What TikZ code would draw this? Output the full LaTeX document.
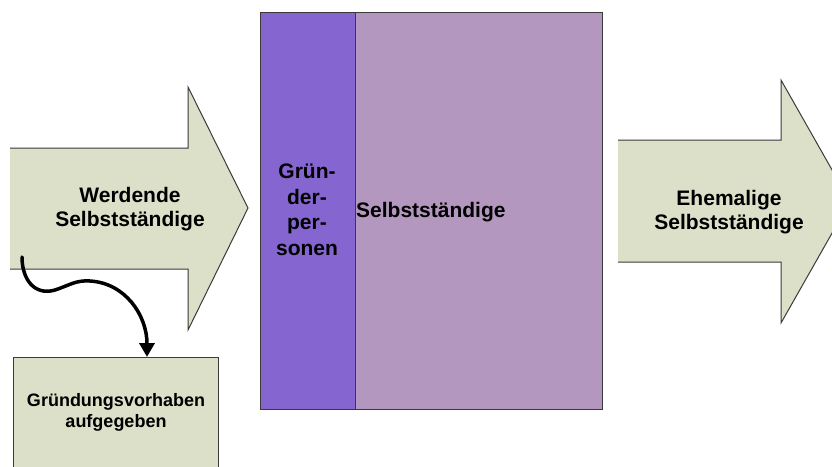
\documentclass[tikz,border=0pt]{standalone}
\usepackage{fontspec}
\setmainfont{Liberation Sans}
\usetikzlibrary{arrows.meta}
\definecolor{arrowfill}{HTML}{DDE0C9}
\definecolor{founder}{HTML}{8565CF}
\definecolor{selfemp}{HTML}{B497BF}
\definecolor{edge}{HTML}{3A3A3A}
\tikzset{
  bigarrow/.style={fill=arrowfill,draw=none},
  arrowedge/.style={draw=edge,line width=1pt,line join=miter},
  label/.style={font=\bfseries\fontsize{21}{24.5}\selectfont,align=center,inner sep=0pt,text=black},
  smalllabel/.style={font=\bfseries\fontsize{18}{21}\selectfont,align=center,inner sep=0pt,text=black},
  panel/.style={draw=edge,line width=1.2pt},
  flow/.style={line width=3.5pt,line cap=round,-{Triangle[width=15pt,length=14pt]}}
}
\begin{document}
\begin{tikzpicture}[x=1pt,y=-1pt]
\useasboundingbox (0,0) rectangle (832,466);
\clip (0,0) rectangle (832,466);
% left arrow
\fill[bigarrow] (10,148) -- (188,148) -- (188,87) -- (248,208) -- (188,330) -- (188,269) -- (10,269) -- cycle;
\draw[arrowedge] (10,148) -- (188,148) -- (188,87) -- (248,208) -- (188,330) -- (188,269) -- (10,269);
\node[label] (werd) at (130,209) {Werdende\\Selbstständige};
% right arrow
\fill[bigarrow] (618,140) -- (781,140) -- (781,80) -- (850,201.5) -- (781,323) -- (781,262) -- (618,262) -- cycle;
\draw[arrowedge] (618,140) -- (781,140) -- (781,80) -- (850,201.5) -- (781,323) -- (781,262) -- (618,262);
\node[label] (ehem) at (729,212) {Ehemalige\\Selbstständige};
% central panels
\node[panel,fill=selfemp,minimum width=247pt,minimum height=397pt,inner sep=0pt,anchor=north west] (selb) at (355,12) {};
\node[panel,fill=founder,minimum width=95pt,minimum height=397pt,inner sep=0pt,anchor=north west] (gruend) at (260,12) {};
\node[label,anchor=base west] (selbtxt) at (356,217) {Selbstständige};
\node[label,font=\bfseries\fontsize{21}{25.5}\selectfont] (gruendtxt) at (307,210) {Grün-\\der-\\per-\\sonen};
% abandoned box
\node[draw=edge,line width=1pt,fill=arrowfill,minimum width=205pt,minimum height=130pt,inner sep=0pt,anchor=north west] (aufg) at (13,357) {};
\node[smalllabel] (aufgtxt) at (116,412) {Gründungsvorhaben\\aufgegeben};
% curved connector
\coordinate (start) at (22,257);
\draw[flow] (start) .. controls (22,280) and (35,296) .. (55,290)
  .. controls (70,285) and (76,280) .. (90,281)
  .. controls (125,283) and (147,315) .. (aufg.north west -| 147,357);
\end{tikzpicture}
\end{document}
